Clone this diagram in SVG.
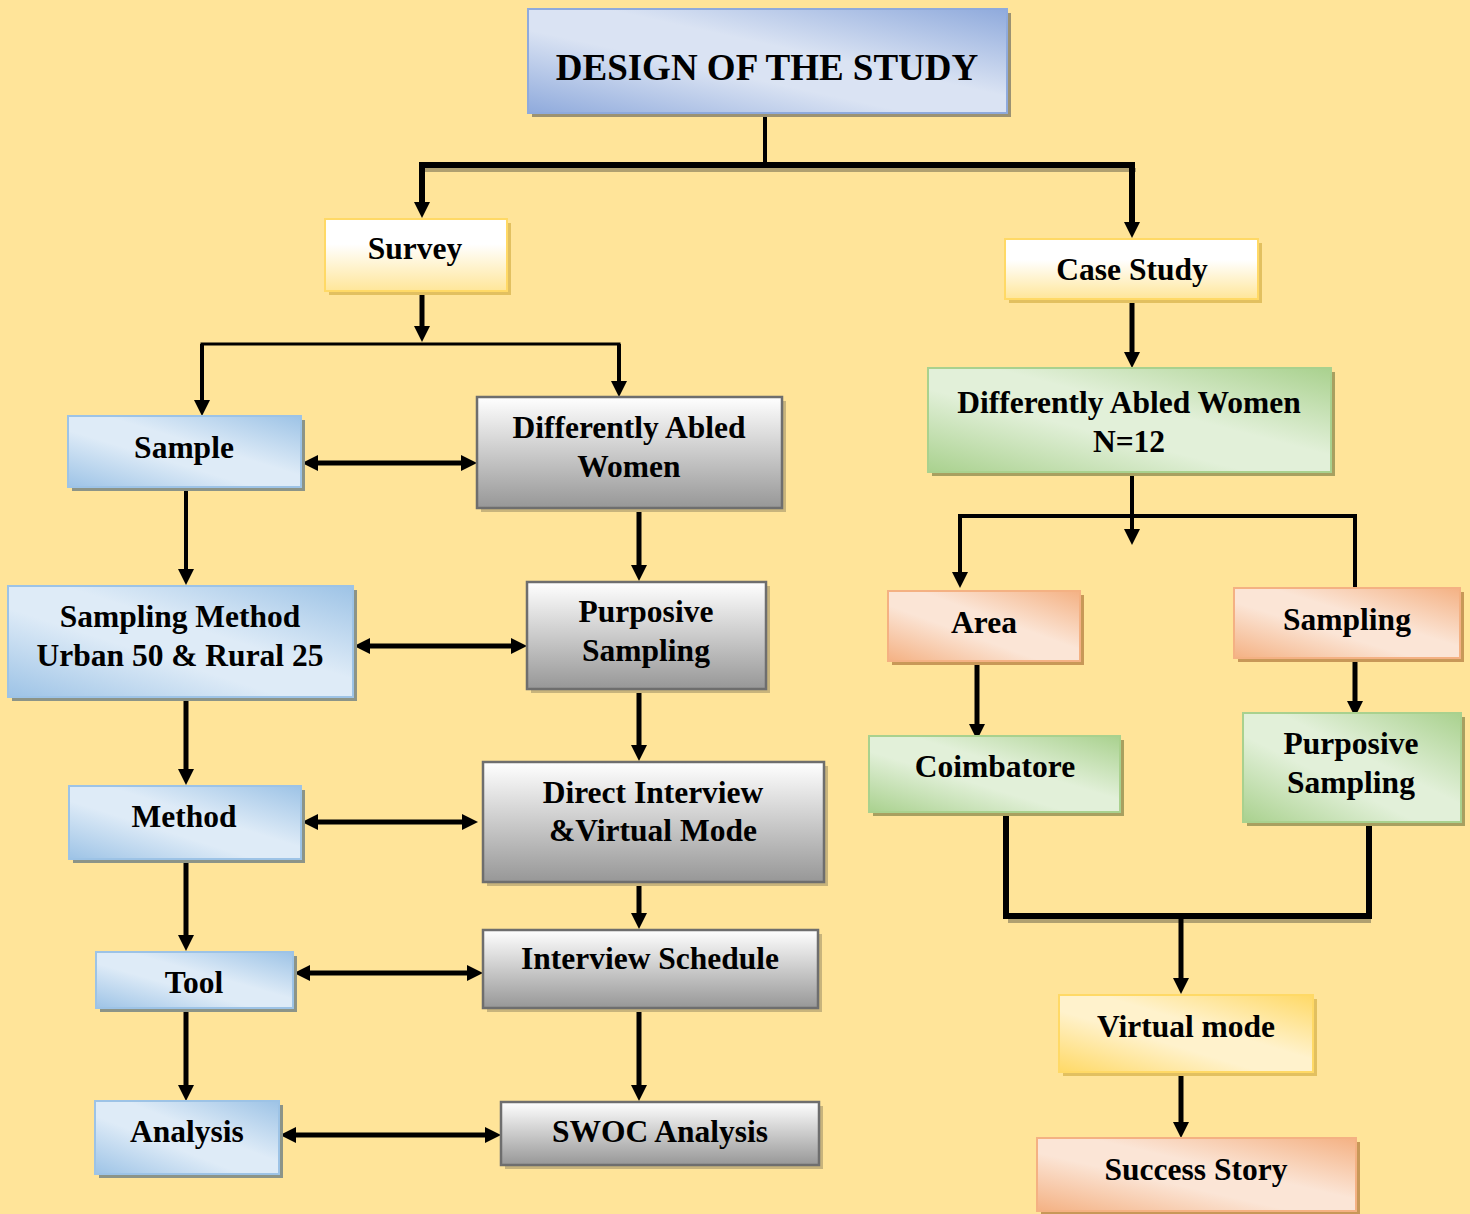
<svg xmlns="http://www.w3.org/2000/svg" width="1470" height="1214" viewBox="0 0 1470 1214">
<defs>
<linearGradient id="gTitle" x1="1" y1="0" x2="0" y2="1"><stop offset="0" stop-color="#8FAADC"/><stop offset="0.42" stop-color="#DAE3F3"/><stop offset="0.6" stop-color="#DAE3F3"/><stop offset="1" stop-color="#8FAADC"/></linearGradient>
<linearGradient id="gBlue" x1="1" y1="0" x2="0" y2="1"><stop offset="0" stop-color="#9DC3E6"/><stop offset="0.42" stop-color="#DEEBF7"/><stop offset="0.6" stop-color="#DEEBF7"/><stop offset="1" stop-color="#9DC3E6"/></linearGradient>
<linearGradient id="gGreen" x1="1" y1="0" x2="0" y2="1"><stop offset="0" stop-color="#A9D18E"/><stop offset="0.42" stop-color="#E2F0D9"/><stop offset="0.6" stop-color="#E2F0D9"/><stop offset="1" stop-color="#A9D18E"/></linearGradient>
<linearGradient id="gSalmon" x1="1" y1="0" x2="0" y2="1"><stop offset="0" stop-color="#F4B183"/><stop offset="0.42" stop-color="#FBE5D6"/><stop offset="0.6" stop-color="#FBE5D6"/><stop offset="1" stop-color="#F4B183"/></linearGradient>
<linearGradient id="gYellowD" x1="1" y1="0" x2="0" y2="1"><stop offset="0" stop-color="#FFD966"/><stop offset="0.42" stop-color="#FFF2CC"/><stop offset="0.6" stop-color="#FFF2CC"/><stop offset="1" stop-color="#FFD966"/></linearGradient>
<linearGradient id="gYellow" x1="0" y1="0" x2="0" y2="1"><stop offset="0" stop-color="#FFFFFF"/><stop offset="0.35" stop-color="#FFFFFF"/><stop offset="1" stop-color="#FFE699"/></linearGradient>
<linearGradient id="gGray" x1="0" y1="0" x2="0" y2="1"><stop offset="0" stop-color="#FFFFFF"/><stop offset="1" stop-color="#979797"/></linearGradient>
<marker id="ah" viewBox="0 0 16 16" refX="4" refY="8" markerWidth="16" markerHeight="16" markerUnits="userSpaceOnUse" orient="auto-start-reverse"><path d="M0,0 L16,8 L0,16 z" fill="#000"/></marker>
<style>
.t{font-family:"Liberation Serif","Times New Roman",serif;font-weight:bold;font-size:31.5px;text-anchor:middle;fill:#000}
.title{font-size:37px}
.sTitle{fill:#9C9272}.sBlue{fill:#8C9488}.sGreen{fill:#A8A060}.sSalmon{fill:#C89858}.sYellow{fill:#E2C060}.sGray{fill:#C8B47C}
.bTitle{fill:url(#gTitle);stroke:#8FAADC;stroke-width:2}
.bBlue{fill:url(#gBlue);stroke:#9DC3E6;stroke-width:2}
.bGreen{fill:url(#gGreen);stroke:#A9D18E;stroke-width:2}
.bSalmon{fill:url(#gSalmon);stroke:#F4B183;stroke-width:2}
.bYellow{fill:url(#gYellow);stroke:#FFD966;stroke-width:2}
.bYellowD{fill:url(#gYellowD);stroke:#FFD966;stroke-width:2}
.bGray{fill:url(#gGray);stroke:#6E6E6E;stroke-width:2.5}
.c{stroke:#000;fill:none}
.arr{marker-end:url(#ah)}
.dbl{marker-start:url(#ah);marker-end:url(#ah)}
</style>
</defs>
<rect x="0" y="0" width="1470" height="1214" fill="#FFE499"/>

<g id="connectors">
<line x1="424" y1="170" x2="1136" y2="170" stroke="#B0A070" stroke-width="4"/>
<line x1="1008" y1="921" x2="1371" y2="921" stroke="#B0A070" stroke-width="4"/>
<line class="c" x1="765" y1="113" x2="765" y2="165" stroke-width="4"/>
<polyline class="c" points="422,206 422,165 1132,165 1132,226" stroke-width="6"/>
<line class="c arr" x1="422" y1="165" x2="422" y2="206" stroke-width="5"/>
<line class="c arr" x1="1132" y1="165" x2="1132" y2="226" stroke-width="5"/>
<line class="c arr" x1="422" y1="291" x2="422" y2="330" stroke-width="5"/>
<polyline class="c" points="202,404 202,344 619,344 619,385" stroke-width="3"/>
<line class="c arr" x1="202" y1="344" x2="202" y2="404" stroke-width="4"/>
<line class="c arr" x1="619" y1="344" x2="619" y2="385" stroke-width="4"/>
<line class="c dbl" x1="314" y1="463" x2="465" y2="463" stroke-width="5"/>
<line class="c arr" x1="186" y1="487" x2="186" y2="573" stroke-width="4"/>
<line class="c arr" x1="639" y1="508" x2="639" y2="569" stroke-width="5"/>
<line class="c dbl" x1="366" y1="646" x2="515" y2="646" stroke-width="5"/>
<line class="c arr" x1="186" y1="697" x2="186" y2="773" stroke-width="5"/>
<line class="c arr" x1="639" y1="689" x2="639" y2="749" stroke-width="5"/>
<line class="c dbl" x1="314" y1="822" x2="466" y2="822" stroke-width="5"/>
<line class="c arr" x1="186" y1="859" x2="186" y2="939" stroke-width="5"/>
<line class="c arr" x1="639" y1="882" x2="639" y2="917" stroke-width="5"/>
<line class="c dbl" x1="306" y1="973" x2="471" y2="973" stroke-width="5"/>
<line class="c arr" x1="186" y1="1008" x2="186" y2="1089" stroke-width="5"/>
<line class="c arr" x1="639" y1="1008" x2="639" y2="1089" stroke-width="5"/>
<line class="c dbl" x1="292" y1="1135" x2="489" y2="1135" stroke-width="5"/>

<line class="c arr" x1="1132" y1="299" x2="1132" y2="356" stroke-width="5"/>
<line class="c arr" x1="1132" y1="472" x2="1132" y2="533" stroke-width="4"/>
<polyline class="c" points="960,576 960,516 1355,516 1355,588" stroke-width="4"/>
<line class="c arr" x1="960" y1="516" x2="960" y2="576" stroke-width="4"/>
<line class="c arr" x1="977" y1="655" x2="977" y2="728" stroke-width="5"/>
<line class="c arr" x1="1355" y1="646" x2="1355" y2="705" stroke-width="5"/>
<polyline class="c" points="1006,812 1006,916 1369,916 1369,822" stroke-width="6"/>
<line class="c arr" x1="1181" y1="916" x2="1181" y2="982" stroke-width="5"/>
<line class="c arr" x1="1181" y1="1072" x2="1181" y2="1126" stroke-width="5"/>
</g>

<g id="title"><rect class="sTitle" x="532" y="13" width="479" height="104"/><rect class="bTitle" x="528" y="9" width="479" height="104"/><text class="t title" x="767" y="80">DESIGN OF THE STUDY</text></g>
<g id="survey"><rect class="sYellow" x="329" y="223" width="182" height="72"/><rect class="bYellow" x="325" y="219" width="182" height="72"/><text class="t" x="415" y="259">Survey</text></g>
<g id="case-study"><rect class="sYellow" x="1009" y="243" width="253" height="60"/><rect class="bYellow" x="1005" y="239" width="253" height="60"/><text class="t" x="1132" y="280">Case Study</text></g>
<g id="sample"><rect class="sBlue" x="72" y="420" width="233" height="71"/><rect class="bBlue" x="68" y="416" width="233" height="71"/><text class="t" x="184" y="458">Sample</text></g>
<g id="daw-survey"><rect class="sGray" x="481" y="401" width="305" height="111"/><rect class="bGray" x="477" y="397" width="305" height="111"/><text class="t" x="629" y="438">Differently Abled</text><text class="t" x="629" y="477">Women</text></g>
<g id="sampling-method"><rect class="sBlue" x="12" y="590" width="345" height="111"/><rect class="bBlue" x="8" y="586" width="345" height="111"/><text class="t" x="180" y="627">Sampling Method</text><text class="t" x="180" y="666">Urban 50 &amp; Rural 25</text></g>
<g id="purposive-survey"><rect class="sGray" x="531" y="586" width="239" height="107"/><rect class="bGray" x="527" y="582" width="239" height="107"/><text class="t" x="646" y="622">Purposive</text><text class="t" x="646" y="661">Sampling</text></g>
<g id="method"><rect class="sBlue" x="73" y="790" width="232" height="73"/><rect class="bBlue" x="69" y="786" width="232" height="73"/><text class="t" x="184" y="827">Method</text></g>
<g id="direct-interview"><rect class="sGray" x="487" y="766" width="341" height="120"/><rect class="bGray" x="483" y="762" width="341" height="120"/><text class="t" x="653" y="803">Direct Interview</text><text class="t" x="653" y="841">&amp;Virtual Mode</text></g>
<g id="tool"><rect class="sBlue" x="100" y="956" width="197" height="56"/><rect class="bBlue" x="96" y="952" width="197" height="56"/><text class="t" x="194" y="993">Tool</text></g>
<g id="interview-schedule"><rect class="sGray" x="487" y="934" width="335" height="78"/><rect class="bGray" x="483" y="930" width="335" height="78"/><text class="t" x="650" y="969">Interview Schedule</text></g>
<g id="analysis"><rect class="sBlue" x="99" y="1105" width="184" height="73"/><rect class="bBlue" x="95" y="1101" width="184" height="73"/><text class="t" x="187" y="1142">Analysis</text></g>
<g id="swoc"><rect class="sGray" x="505" y="1106" width="318" height="63"/><rect class="bGray" x="501" y="1102" width="318" height="63"/><text class="t" x="660" y="1142">SWOC Analysis</text></g>

<g id="daw-case"><rect class="sGreen" x="932" y="372" width="403" height="104"/><rect class="bGreen" x="928" y="368" width="403" height="104"/><text class="t" x="1129" y="413">Differently Abled Women</text><text class="t" x="1129" y="452">N=12</text></g>
<g id="area"><rect class="sSalmon" x="892" y="595" width="192" height="70"/><rect class="bSalmon" x="888" y="591" width="192" height="70"/><text class="t" x="984" y="633">Area</text></g>
<g id="sampling-case"><rect class="sSalmon" x="1238" y="592" width="226" height="70"/><rect class="bSalmon" x="1234" y="588" width="226" height="70"/><text class="t" x="1347" y="630">Sampling</text></g>
<g id="coimbatore"><rect class="sGreen" x="873" y="740" width="251" height="76"/><rect class="bGreen" x="869" y="736" width="251" height="76"/><text class="t" x="995" y="777">Coimbatore</text></g>
<g id="purposive-case"><rect class="sGreen" x="1247" y="717" width="218" height="109"/><rect class="bGreen" x="1243" y="713" width="218" height="109"/><text class="t" x="1351" y="754">Purposive</text><text class="t" x="1351" y="793">Sampling</text></g>
<g id="virtual-mode"><rect class="sYellow" x="1063" y="999" width="254" height="77"/><rect class="bYellowD" x="1059" y="995" width="254" height="77"/><text class="t" x="1186" y="1037">Virtual mode</text></g>
<g id="success-story"><rect class="sSalmon" x="1041" y="1142" width="319" height="73"/><rect class="bSalmon" x="1037" y="1138" width="319" height="73"/><text class="t" x="1196" y="1180">Success Story</text></g>
</svg>
